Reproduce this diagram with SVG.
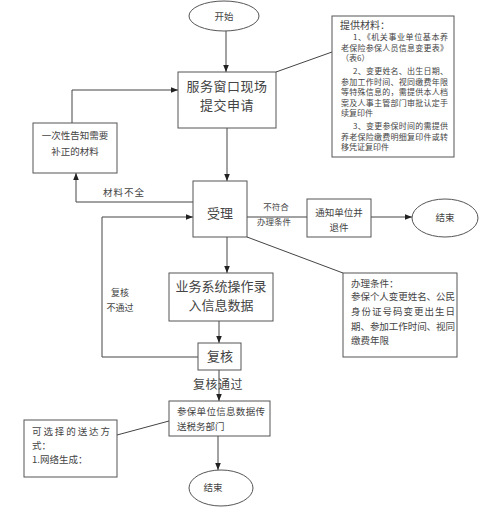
<svg xmlns="http://www.w3.org/2000/svg" width="500" height="527" viewBox="0 0 500 527">
<style>
.b{fill:#fff;stroke:#555;stroke-width:1}
.c{fill:none;stroke:#444;stroke-width:1}
text{font-family:"Noto Sans CJK SC","Noto Sans",sans-serif;fill:#444}
.t8{font-size:8px}
.t9{font-size:9.5px}
.t13{font-size:13px}
</style>
<defs>
<marker id="a" viewBox="0 0 10 10" refX="10" refY="5" markerWidth="7" markerHeight="7" orient="auto" markerUnits="userSpaceOnUse"><path d="M0,1 L10,5 L0,9 Z" fill="#222"/></marker>
</defs>
<rect width="500" height="527" fill="#fff"/>
<g id="connectors">
<line class="c" x1="226" y1="31" x2="226" y2="72" marker-end="url(#a)"/>
<line class="c" x1="276" y1="72" x2="332" y2="52"/>
<polyline class="c" points="72,123 72,90 178,90" marker-end="url(#a)"/>
<line class="c" x1="227" y1="128" x2="227" y2="181" marker-end="url(#a)"/>
<polyline class="c" points="193,202 76,202 76,173" marker-end="url(#a)"/>
<polyline class="c" points="198,357 102,357 102,217 193,217" marker-end="url(#a)"/>
<line class="c" x1="247" y1="217" x2="307" y2="217"/>
<line class="c" x1="371" y1="217" x2="412" y2="217" marker-end="url(#a)"/>
<line class="c" x1="247" y1="237" x2="343" y2="273"/>
<line class="c" x1="227" y1="237" x2="227" y2="273" marker-end="url(#a)"/>
<line class="c" x1="219" y1="321" x2="219" y2="343" marker-end="url(#a)"/>
<line class="c" x1="219" y1="370" x2="219" y2="401" marker-end="url(#a)"/>
<line class="c" x1="169" y1="421" x2="117" y2="435"/>
<line class="c" x1="218" y1="436" x2="218" y2="470" marker-end="url(#a)"/>
<text class="t9" x="124" y="196" text-anchor="middle" letter-spacing="1">材料不全</text>
<text x="276" y="210" text-anchor="middle" font-size="8.5">不符合</text>
<text x="274" y="225" text-anchor="middle" font-size="8.5">办理条件</text>
<text x="120" y="296" text-anchor="middle" font-size="9">复核</text>
<text x="120" y="311" text-anchor="middle" font-size="9">不通过</text>
<text x="218" y="389" text-anchor="middle" font-size="12" letter-spacing="0.5">复核通过</text>
</g>
<g id="start">
<ellipse class="b" cx="224" cy="16" rx="35" ry="15"/>
<text class="t9" x="224" y="20" text-anchor="middle">开始</text>
</g>
<g id="submit">
<rect class="b" x="178" y="72" width="98" height="56"/>
<text class="t13" x="227" y="91" text-anchor="middle" letter-spacing="0.5">服务窗口现场</text>
<text class="t13" x="227" y="110" text-anchor="middle" letter-spacing="0.5">提交申请</text>
</g>
<g id="materials">
<rect class="b" x="332" y="16" width="122" height="141"/>
<text x="340" y="29" font-size="10">提供材料：</text>
<text class="t8" x="353" y="40" textLength="95" lengthAdjust="spacing">1、《机关事业单位基本养</text>
<text class="t8" x="341" y="51" textLength="107" lengthAdjust="spacing">老保险参保人员信息变更表》</text>
<text class="t8" x="341" y="61">（表6）</text>
<text class="t8" x="353" y="74" textLength="95" lengthAdjust="spacing">2、变更姓名、出生日期、</text>
<text class="t8" x="341" y="85" textLength="107" lengthAdjust="spacing">参加工作时间、视同缴费年限</text>
<text class="t8" x="341" y="95" textLength="107" lengthAdjust="spacing">等特殊信息的，需提供本人档</text>
<text class="t8" x="341" y="106" textLength="107" lengthAdjust="spacing">案及人事主管部门审批认定手</text>
<text class="t8" x="341" y="116">续复印件</text>
<text class="t8" x="353" y="129" textLength="95" lengthAdjust="spacing">3、变更参保时间的需提供</text>
<text class="t8" x="341" y="140" textLength="107" lengthAdjust="spacing">养老保险缴费明细复印件或转</text>
<text class="t8" x="341" y="150">移凭证复印件</text>
</g>
<g id="notify">
<rect class="b" x="33" y="123" width="84" height="50"/>
<text class="t9" x="75" y="139" text-anchor="middle">一次性告知需要</text>
<text class="t9" x="75" y="155" text-anchor="middle">补正的材料</text>
</g>
<g id="accept">
<rect class="b" x="193" y="181" width="54" height="56"/>
<text class="t13" x="220" y="218" text-anchor="middle">受理</text>
</g>
<g id="reject">
<rect class="b" x="307" y="199" width="64" height="38"/>
<text class="t9" x="339" y="216" text-anchor="middle">通知单位并</text>
<text class="t9" x="339" y="231" text-anchor="middle">退件</text>
</g>
<g id="end1">
<ellipse class="b" cx="445" cy="218" rx="33" ry="19"/>
<text class="t9" x="445" y="221" text-anchor="middle">结束</text>
</g>
<g id="conditions">
<rect class="b" x="343" y="273" width="114" height="84"/>
<text class="t9" x="351" y="287">办理条件：</text>
<text class="t9" x="351" y="300" textLength="104" lengthAdjust="spacing">参保个人变更姓名、公民</text>
<text class="t9" x="351" y="315" textLength="104" lengthAdjust="spacing">身份证号码变更出生日</text>
<text class="t9" x="351" y="330" textLength="104" lengthAdjust="spacing">期、参加工作时间、视同</text>
<text class="t9" x="351" y="344">缴费年限</text>
</g>
<g id="entry">
<rect class="b" x="169" y="273" width="104" height="48"/>
<text class="t13" x="221" y="291" text-anchor="middle">业务系统操作录</text>
<text class="t13" x="221" y="310" text-anchor="middle">入信息数据</text>
</g>
<g id="review">
<rect class="b" x="198" y="343" width="43" height="27"/>
<text class="t13" x="220" y="361" text-anchor="middle">复核</text>
</g>
<g id="transfer">
<rect class="b" x="169" y="401" width="101" height="35"/>
<text class="t9" x="177" y="415" textLength="88" lengthAdjust="spacing">参保单位信息数据传</text>
<text class="t9" x="177" y="430">送税务部门</text>
</g>
<g id="delivery">
<rect class="b" x="24" y="420" width="93" height="57"/>
<text class="t9" x="32" y="435" textLength="78" lengthAdjust="spacing">可选择的送达方</text>
<text class="t9" x="32" y="449">式：</text>
<text class="t9" x="32" y="463">1.网络生成：</text>
</g>
<g id="end2">
<ellipse class="b" cx="221" cy="488" rx="32" ry="18"/>
<text class="t9" x="213" y="491" text-anchor="middle">结束</text>
</g>
</svg>
